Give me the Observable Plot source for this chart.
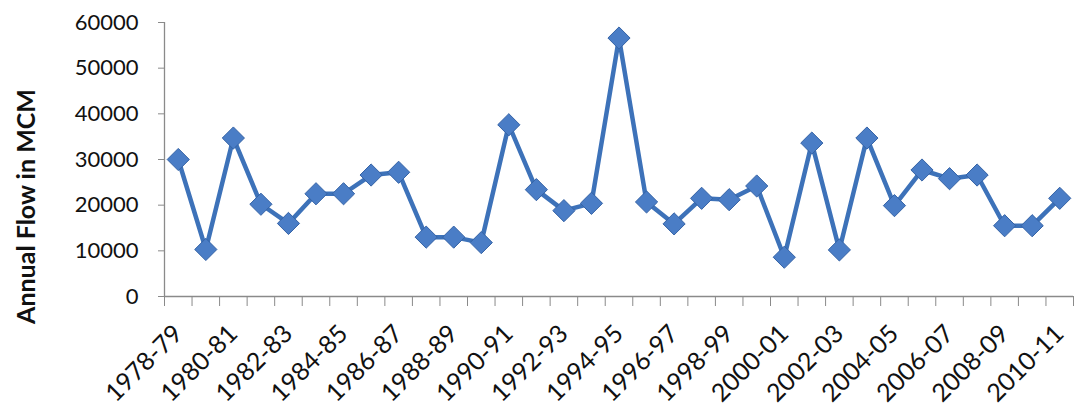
<!DOCTYPE html>
<html>
<head>
<meta charset="utf-8">
<script src="https://cdn.jsdelivr.net/npm/d3@7"></script>
<script src="https://cdn.jsdelivr.net/npm/@observablehq/plot@0.6"></script>
<style>
  html, body { margin: 0; padding: 0; background: #fff; }
  #chart svg { display: block; }
</style>
</head>
<body>
<div id="chart"></div>
<script>
const years = ["1978-79","1979-80","1980-81","1981-82","1982-83","1983-84","1984-85","1985-86","1986-87","1987-88","1988-89","1989-90","1990-91","1991-92","1992-93","1993-94","1994-95","1995-96","1996-97","1997-98","1998-99","1999-00","2000-01","2001-02","2002-03","2003-04","2004-05","2005-06","2006-07","2007-08","2008-09","2009-10","2010-11"];
const flow = [30000,10300,34700,20200,16000,22500,22500,26600,27200,13000,13000,11800,37600,23400,18800,20400,56600,20700,15900,21500,21200,24200,8600,33600,10200,34700,19900,27700,25800,26600,15500,15500,21500];
const yTicks = [0,10000,20000,30000,40000,50000,60000];
const yLabel = "Annual Flow in MCM";

const data = years.map((y, i) => ({year: y, idx: i + 0.5, value: flow[i]}));
const boundaries = d3.range(0, years.length + 1);
const labelPos = data.filter((d, i) => i % 2 === 0).map(d => d.idx);

const axisColor = "#8a8a8a";
const font = "Lato, 'Open Sans', sans-serif";

const chart = Plot.plot({
  width: 1084,
  height: 415,
  marginLeft: 164,
  marginRight: 11,
  marginTop: 22,
  marginBottom: 119,
  style: {fontFamily: font, color: "#111", background: "#fff"},
  x: {domain: [0, years.length], axis: null},
  y: {domain: [0, 60000], axis: null},
  marks: [
    Plot.ruleY([0], {stroke: axisColor, strokeWidth: 1.3}),
    Plot.ruleX([0], {stroke: axisColor, strokeWidth: 1.3}),
    Plot.axisY({ticks: yTicks, tickSize: 6, tickPadding: 20, tickFormat: d3.format("d"),
      stroke: axisColor, fontSize: 22, label: null, fill: "#111"}),
    Plot.axisX({ticks: boundaries, tickSize: 10, tickFormat: () => "", stroke: axisColor, label: null}),
    Plot.axisX({ticks: labelPos, tickSize: 0, tickPadding: 33, tickRotate: -45,
      tickFormat: v => years[Math.floor(v)], fontSize: 25, label: null, fill: "#111"}),
    Plot.text([yLabel], {frameAnchor: "left", textAnchor: "middle", rotate: -90, dx: -138, dy: 47,
      fontSize: 25, fontWeight: "bold", fill: "#111"}),
    Plot.line(data, {x: "idx", y: "value", stroke: "#3d72b9", strokeWidth: 4.5}),
    Plot.dot(data, {x: "idx", y: "value", symbol: "diamond2", r: 10,
      fill: "#4a7dc6", stroke: "#3563a6", strokeWidth: 1})
  ]
});
document.getElementById("chart").append(chart);
</script>
</body>
</html>
